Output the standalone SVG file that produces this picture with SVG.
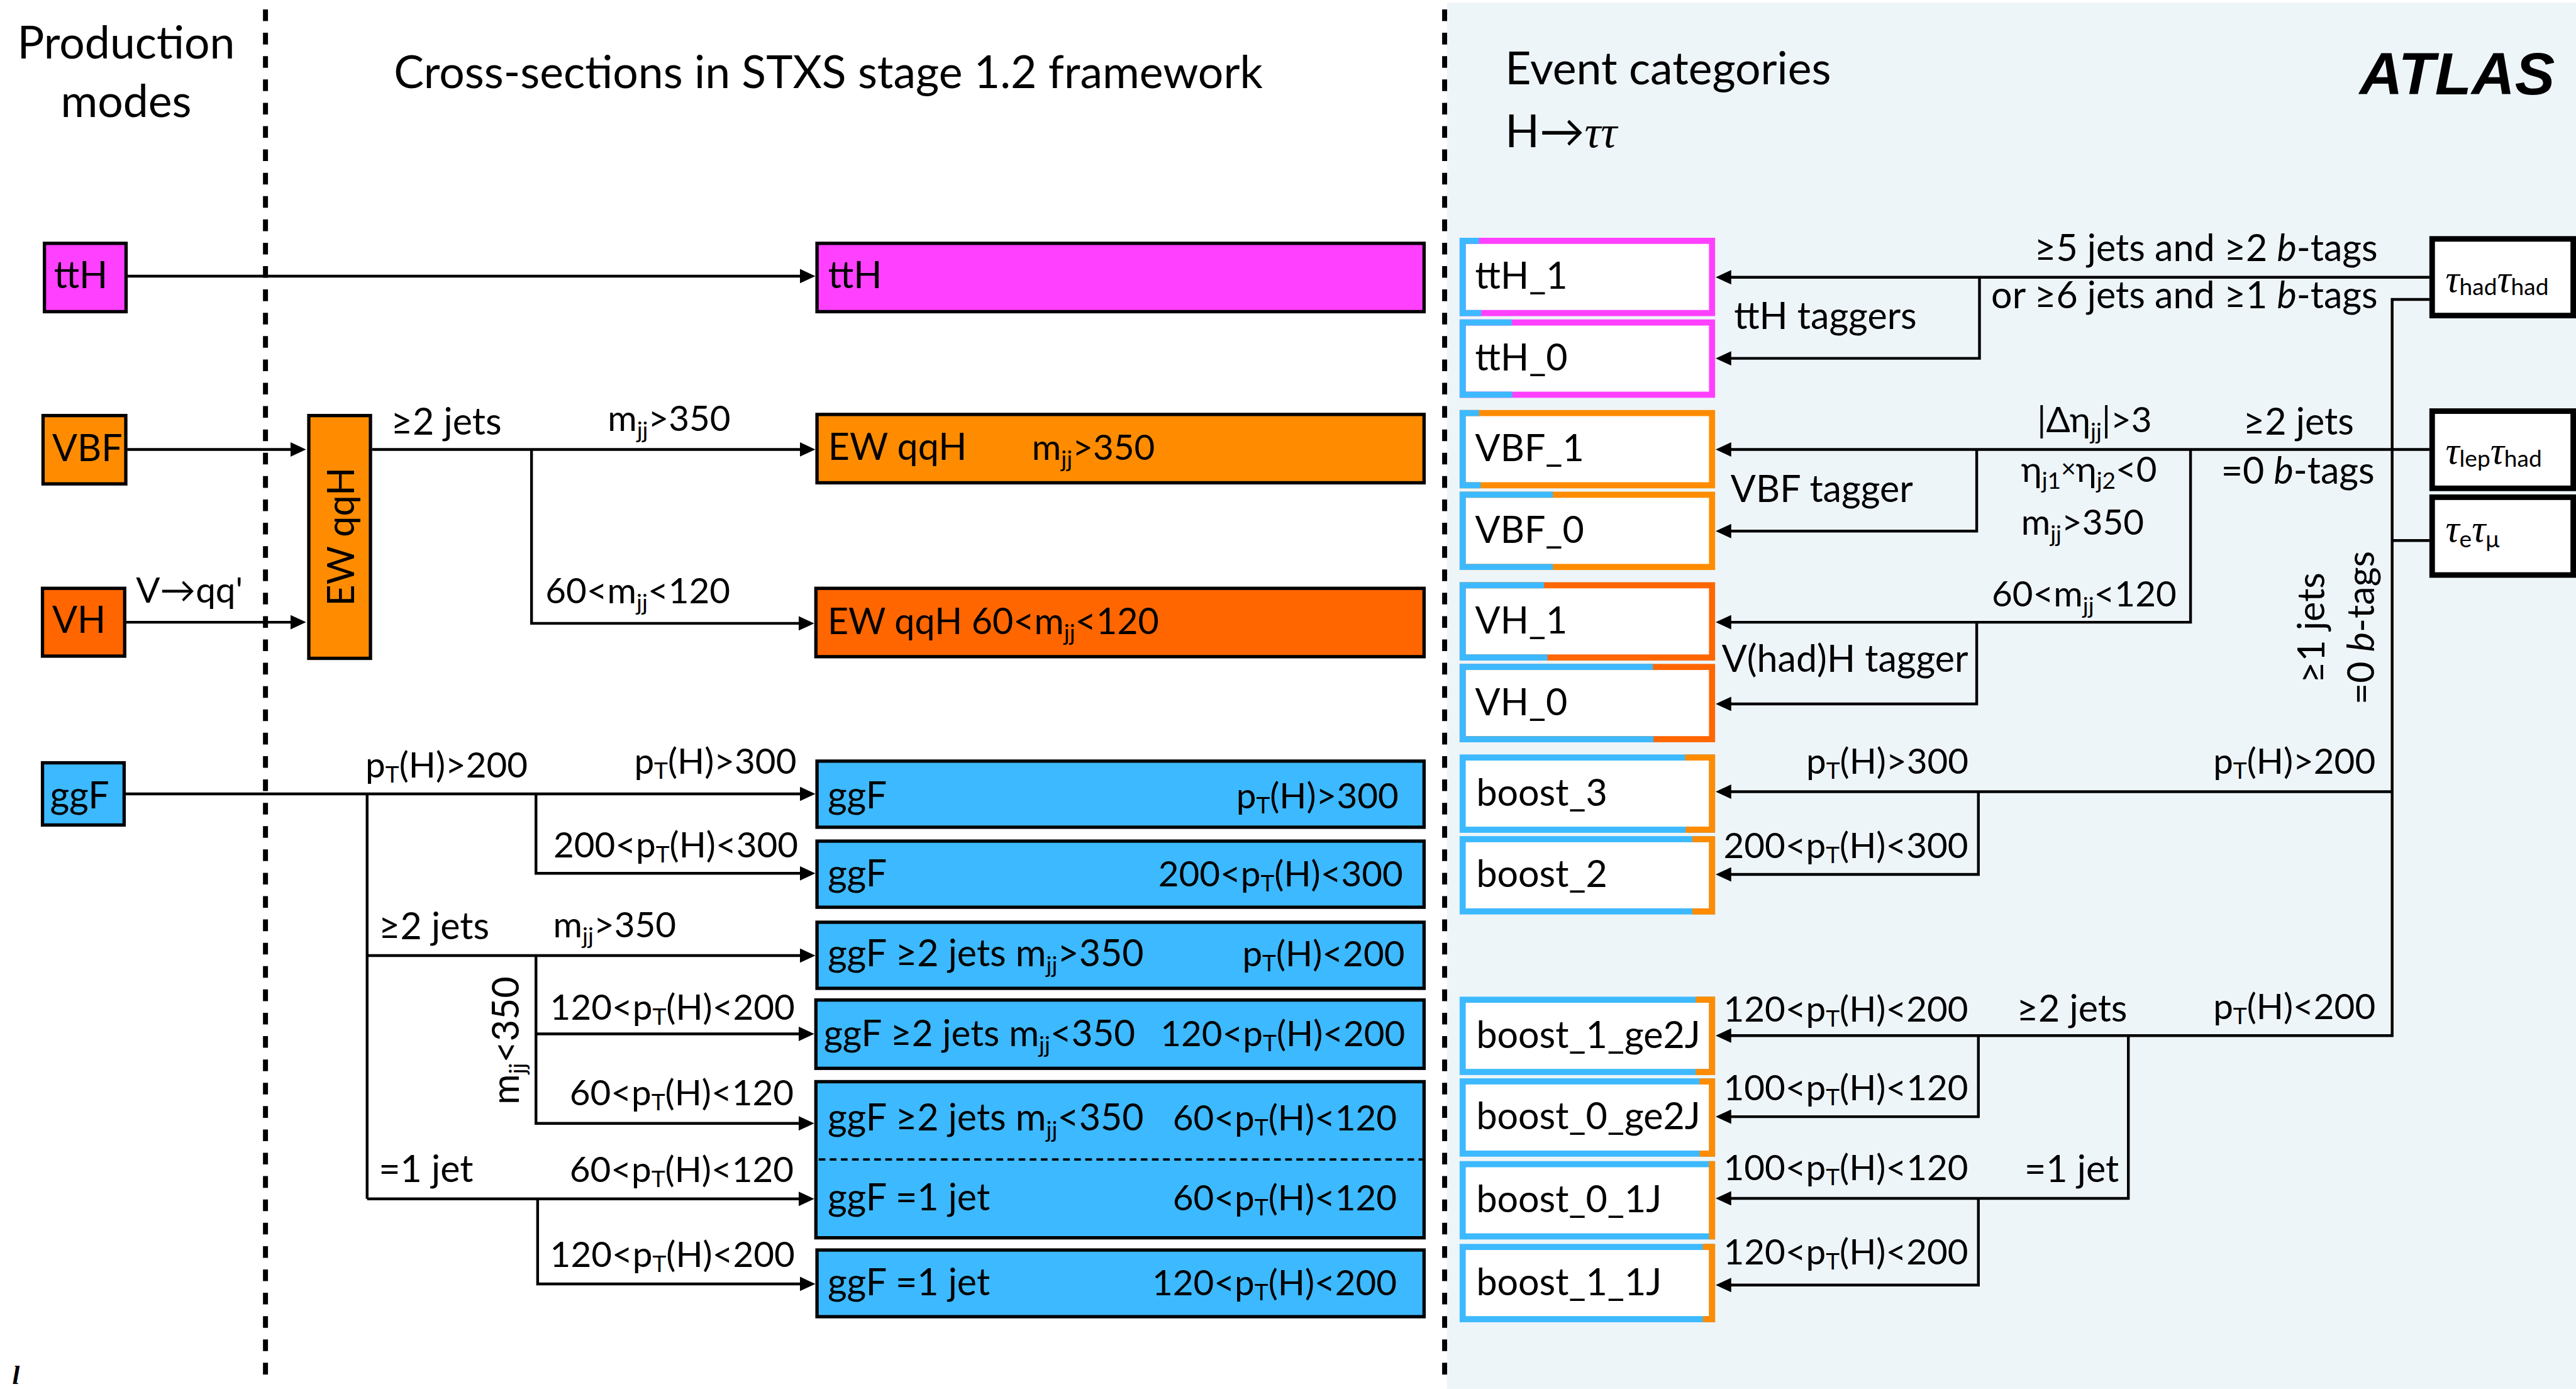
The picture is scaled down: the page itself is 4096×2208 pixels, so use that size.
<svg xmlns="http://www.w3.org/2000/svg" width="4096" height="2208" viewBox="0 0 4096 2208">
<defs>
<style>
text{font-family:Lato,"Liberation Sans","DejaVu Sans",sans-serif;font-size:67px;fill:#000}
.n{font-size:64px}
.hd{font-size:81px}
.s{font-size:42px}
.tau{font-family:"Liberation Serif","DejaVu Serif",serif;font-style:italic;font-size:70px}
.it{font-style:italic}
.box{stroke:#000;stroke-width:6}
.mag{fill:#FF40FF}
.org{fill:#FF8C00}
.dor{fill:#FF6600}
.blu{fill:#3DB9FF}
.cat{fill:#fff;stroke-width:11}
.edge{fill:none;stroke-width:11;stroke-linejoin:miter}
.ln{fill:none;stroke:#000;stroke-width:5}
.sep{stroke:#000;stroke-width:9;stroke-dasharray:21 21}
.tb{fill:#fff;stroke:#000;stroke-width:10}
</style>
<marker id="ah" markerUnits="userSpaceOnUse" viewBox="0 0 30 26" markerWidth="30" markerHeight="26" refX="16" refY="13" orient="auto">
<path d="M0,0 L28,13 L0,26 z" fill="#000"/>
</marker>
</defs>
<rect width="4096" height="2208" fill="#fff"/>
<g transform="scale(0.88314)">

<!-- event-category panel -->
<rect x="2605" y="5" width="2033" height="2495" fill="#EEF5F9"/>

<!-- column separators -->
<line class="sep" x1="478" y1="17" x2="478" y2="2480"/>
<line class="sep" x1="2601" y1="17" x2="2601" y2="2480"/>

<!-- headings -->
<g id="headings">
<text class="hd" x="227" y="105" text-anchor="middle">Production</text>
<text class="hd" x="227" y="211" text-anchor="middle">modes</text>
<text class="hd" x="709" y="158">Cross-sections in STXS stage 1.2 framework</text>
<text class="hd" x="2710" y="152">Event categories</text>
<text class="hd" x="2710" y="265">H→<tspan class="tau" style="font-size:82px">ττ</tspan></text>
<text x="4600" y="170" text-anchor="end" style="font-family:'Liberation Sans',sans-serif;font-weight:bold;font-style:italic;font-size:108px">ATLAS</text>
<text x="22" y="2491" style="font-family:'Liberation Serif',serif;font-weight:bold;font-style:italic;font-size:48px">l</text>
</g>

<!-- connectors -->
<g id="connectors">
<path class="ln" d="M230,497 H1456" marker-end="url(#ah)"/>
<path class="ln" d="M229,809 H539" marker-end="url(#ah)"/>
<path class="ln" d="M227,1120 H539" marker-end="url(#ah)"/>
<path class="ln" d="M670,809 H1456" marker-end="url(#ah)"/>
<path class="ln" d="M957,809 V1122 H1454" marker-end="url(#ah)"/>
<path class="ln" d="M226,1429 H1456" marker-end="url(#ah)"/>
<path class="ln" d="M661,1429 V2158"/>
<path class="ln" d="M965,1429 V1572 H1456" marker-end="url(#ah)"/>
<path class="ln" d="M661,1720 H1456" marker-end="url(#ah)"/>
<path class="ln" d="M965,1720 V2022 H1454" marker-end="url(#ah)"/>
<path class="ln" d="M965,1861 H1454" marker-end="url(#ah)"/>
<path class="ln" d="M661,2158 H1454" marker-end="url(#ah)"/>
<path class="ln" d="M968,2158 V2311 H1456" marker-end="url(#ah)"/>

<path class="ln" d="M4374,499 H3101" marker-end="url(#ah)"/>
<path class="ln" d="M3564,499 V645 H3101" marker-end="url(#ah)"/>
<path class="ln" d="M4374,539 H4307 V1864 H3101" marker-end="url(#ah)"/>
<path class="ln" d="M4374,809 H3101" marker-end="url(#ah)"/>
<path class="ln" d="M3944,809 V1120 H3101" marker-end="url(#ah)"/>
<path class="ln" d="M3559,809 V956 H3101" marker-end="url(#ah)"/>
<path class="ln" d="M3559,1120 V1267 H3101" marker-end="url(#ah)"/>
<path class="ln" d="M4374,973 H4307"/>
<path class="ln" d="M4307,1425 H3101" marker-end="url(#ah)"/>
<path class="ln" d="M3562,1425 V1574 H3101" marker-end="url(#ah)"/>
<path class="ln" d="M3562,1864 V2010 H3101" marker-end="url(#ah)"/>
<path class="ln" d="M3832,1864 V2157 H3101" marker-end="url(#ah)"/>
<path class="ln" d="M3562,2157 V2313 H3101" marker-end="url(#ah)"/>
</g>

<!-- connector labels -->
<g id="labels">
<text class="n" x="245" y="1085">V→qq'</text>
<text x="704" y="782">≥2 jets</text>
<text class="n" x="1094" y="776">m<tspan class="s" dy="13">jj</tspan><tspan dy="-13">&gt;350</tspan></text>
<text class="n" x="982" y="1086">60&lt;m<tspan class="s" dy="13">jj</tspan><tspan dy="-13">&lt;120</tspan></text>
<text class="n" x="658" y="1400">p<tspan class="s" dy="9">T</tspan><tspan dy="-9">(H)&gt;200</tspan></text>
<text class="n" x="1434" y="1393" text-anchor="end">p<tspan class="s" dy="9">T</tspan><tspan dy="-9">(H)&gt;300</tspan></text>
<text class="n" x="1437" y="1543" text-anchor="end">200&lt;p<tspan class="s" dy="9">T</tspan><tspan dy="-9">(H)&lt;300</tspan></text>
<text x="682" y="1690">≥2 jets</text>
<text class="n" x="996" y="1687">m<tspan class="s" dy="13">jj</tspan><tspan dy="-13">&gt;350</tspan></text>
<text transform="translate(934,1873) rotate(-90)" text-anchor="middle">m<tspan class="s" dy="13">jj</tspan><tspan dy="-13">&lt;350</tspan></text>
<text class="n" x="1431" y="1836" text-anchor="end">120&lt;p<tspan class="s" dy="9">T</tspan><tspan dy="-9">(H)&lt;200</tspan></text>
<text class="n" x="1429" y="1990" text-anchor="end">60&lt;p<tspan class="s" dy="9">T</tspan><tspan dy="-9">(H)&lt;120</tspan></text>
<text x="682" y="2128">=1 jet</text>
<text class="n" x="1429" y="2128" text-anchor="end">60&lt;p<tspan class="s" dy="9">T</tspan><tspan dy="-9">(H)&lt;120</tspan></text>
<text class="n" x="1431" y="2281" text-anchor="end">120&lt;p<tspan class="s" dy="9">T</tspan><tspan dy="-9">(H)&lt;200</tspan></text>

<text x="4281" y="470" text-anchor="end">≥5 jets and ≥2 <tspan class="it">b</tspan>-tags</text>
<text x="4281" y="555" text-anchor="end">or ≥6 jets and ≥1 <tspan class="it">b</tspan>-tags</text>
<text x="3122" y="592">ttH taggers</text>
<text class="n" x="3668" y="778">|Δη<tspan class="s" dy="13">jj</tspan><tspan dy="-13">|&gt;3</tspan></text>
<text x="4039" y="782">≥2 jets</text>
<text class="n" x="3639" y="867">η<tspan class="s" dy="13">j1</tspan><tspan style="font-size:46px" dy="-21">×</tspan><tspan dy="8">η</tspan><tspan class="s" dy="13">j2</tspan><tspan dy="-13">&lt;0</tspan></text>
<text x="3999" y="871">=0 <tspan class="it">b</tspan>-tags</text>
<text class="n" x="3639" y="963">m<tspan class="s" dy="13">jj</tspan><tspan dy="-13">&gt;350</tspan></text>
<text x="3116" y="904">VBF tagger</text>
<text class="n" x="3586" y="1092">60&lt;m<tspan class="s" dy="13">jj</tspan><tspan dy="-13">&lt;120</tspan></text>
<text x="3100" y="1209">V(had)H tagger</text>
<text transform="translate(4185,1130) rotate(-90)" text-anchor="middle">≥1 jets</text>
<text transform="translate(4274,1130) rotate(-90)" text-anchor="middle">=0 <tspan class="it">b</tspan>-tags</text>
<text class="n" x="3252" y="1393">p<tspan class="s" dy="9">T</tspan><tspan dy="-9">(H)&gt;300</tspan></text>
<text class="n" x="4277" y="1393" text-anchor="end">p<tspan class="s" dy="9">T</tspan><tspan dy="-9">(H)&gt;200</tspan></text>
<text class="n" x="3103" y="1545">200&lt;p<tspan class="s" dy="9">T</tspan><tspan dy="-9">(H)&lt;300</tspan></text>
<text class="n" x="4277" y="1834" text-anchor="end">p<tspan class="s" dy="9">T</tspan><tspan dy="-9">(H)&lt;200</tspan></text>
<text x="3631" y="1839">≥2 jets</text>
<text class="n" x="3103" y="1839">120&lt;p<tspan class="s" dy="9">T</tspan><tspan dy="-9">(H)&lt;200</tspan></text>
<text class="n" x="3103" y="1980">100&lt;p<tspan class="s" dy="9">T</tspan><tspan dy="-9">(H)&lt;120</tspan></text>
<text class="n" x="3103" y="2124">100&lt;p<tspan class="s" dy="9">T</tspan><tspan dy="-9">(H)&lt;120</tspan></text>
<text x="3815" y="2128" text-anchor="end">=1 jet</text>
<text class="n" x="3103" y="2276">120&lt;p<tspan class="s" dy="9">T</tspan><tspan dy="-9">(H)&lt;200</tspan></text>
</g>

<!-- production modes -->
<g id="prod-ttH"><rect class="box mag" x="80" y="438" width="147" height="123"/><text x="97" y="519">ttH</text></g>
<g id="prod-VBF"><rect class="box org" x="77.5" y="748" width="149" height="123"/><text x="94" y="830">VBF</text></g>
<g id="prod-VH"><rect class="box dor" x="76.5" y="1059" width="148" height="122"/><text x="94" y="1139">VH</text></g>
<g id="prod-ggF"><rect class="box blu" x="76.5" y="1373" width="147" height="112"/><text x="90" y="1455">ggF</text></g>

<!-- intermediate EW qqH -->
<g id="ewqqh"><rect class="box org" x="556" y="748" width="111" height="437"/><text transform="translate(638,966) rotate(-90)" text-anchor="middle">EW qqH</text></g>

<!-- STXS bins -->
<g id="stxs-ttH"><rect class="box mag" x="1471" y="438" width="1093" height="123"/><text x="1491" y="519">ttH</text></g>
<g id="stxs-qqH-mjj350"><rect class="box org" x="1471" y="746" width="1093" height="123"/><text x="1491" y="828">EW qqH</text><text class="n" x="1858" y="828">m<tspan class="s" dy="13">jj</tspan><tspan dy="-13">&gt;350</tspan></text></g>
<g id="stxs-qqH-vh"><rect class="box dor" x="1469" y="1059" width="1095" height="123"/><text x="1490" y="1141" style="font-size:65px">EW qqH 60&lt;m<tspan class="s" dy="13">jj</tspan><tspan dy="-13">&lt;120</tspan></text></g>
<g id="stxs-ggF-300"><rect class="box blu" x="1471" y="1370" width="1093" height="119"/><text x="1490" y="1455">ggF</text><text class="n" x="2518" y="1455" text-anchor="end">p<tspan class="s" dy="9">T</tspan><tspan dy="-9">(H)&gt;300</tspan></text></g>
<g id="stxs-ggF-200-300"><rect class="box blu" x="1471" y="1514" width="1093" height="119"/><text x="1490" y="1595">ggF</text><text class="n" x="2526" y="1595" text-anchor="end">200&lt;p<tspan class="s" dy="9">T</tspan><tspan dy="-9">(H)&lt;300</tspan></text></g>
<g id="stxs-ggF-2j-vbf"><rect class="box blu" x="1471" y="1660" width="1093" height="119"/><text x="1490" y="1739">ggF ≥2 jets m<tspan class="s" dy="13">jj</tspan><tspan dy="-13">&gt;350</tspan></text><text class="n" x="2529" y="1739" text-anchor="end">p<tspan class="s" dy="9">T</tspan><tspan dy="-9">(H)&lt;200</tspan></text></g>
<g id="stxs-ggF-2j-120"><rect class="box blu" x="1469" y="1800" width="1095" height="123"/><text x="1483" y="1883" style="font-size:66px">ggF ≥2 jets m<tspan class="s" dy="13">jj</tspan><tspan dy="-13">&lt;350</tspan></text><text class="n" x="2530" y="1883" text-anchor="end">120&lt;p<tspan class="s" dy="9">T</tspan><tspan dy="-9">(H)&lt;200</tspan></text></g>
<g id="stxs-ggF-60-120"><rect class="box blu" x="1469" y="1947" width="1095" height="281"/>
<line x1="1474" y1="2087" x2="2561" y2="2087" stroke="#000" stroke-width="4" stroke-dasharray="12 8"/>
<text x="1490" y="2035">ggF ≥2 jets m<tspan class="s" dy="13">jj</tspan><tspan dy="-13">&lt;350</tspan></text><text class="n" x="2515" y="2035" text-anchor="end">60&lt;p<tspan class="s" dy="9">T</tspan><tspan dy="-9">(H)&lt;120</tspan></text>
<text x="1490" y="2179">ggF =1 jet</text><text class="n" x="2515" y="2179" text-anchor="end">60&lt;p<tspan class="s" dy="9">T</tspan><tspan dy="-9">(H)&lt;120</tspan></text></g>
<g id="stxs-ggF-1j-120"><rect class="box blu" x="1471" y="2250" width="1093" height="120"/><text x="1490" y="2331">ggF =1 jet</text><text class="n" x="2515" y="2331" text-anchor="end">120&lt;p<tspan class="s" dy="9">T</tspan><tspan dy="-9">(H)&lt;200</tspan></text></g>

<!-- event categories -->
<g id="cat-ttH_1"><rect class="cat" stroke="#FF40FF" x="2633.5" y="433.5" width="449" height="130"/><path class="edge" stroke="#3DB9FF" d="M2663,433.5 H2633.5 V563.5 H2667"/><text x="2656" y="520">ttH_1</text></g>
<g id="cat-ttH_0"><rect class="cat" stroke="#FF40FF" x="2633.5" y="580.5" width="449" height="130"/><path class="edge" stroke="#3DB9FF" d="M2722,580.5 H2633.5 V710.5 H2723"/><text x="2656" y="667">ttH_0</text></g>
<g id="cat-VBF_1"><rect class="cat" stroke="#FF8C00" x="2633.5" y="743.5" width="449" height="130"/><path class="edge" stroke="#3DB9FF" d="M2663,743.5 H2633.5 V873.5 H2666"/><text x="2656" y="830">VBF_1</text></g>
<g id="cat-VBF_0"><rect class="cat" stroke="#FF8C00" x="2633.5" y="890.5" width="449" height="130"/><path class="edge" stroke="#3DB9FF" d="M2796,890.5 H2633.5 V1020.5 H2796"/><text x="2656" y="977">VBF_0</text></g>
<g id="cat-VH_1"><rect class="cat" stroke="#FF6600" x="2633.5" y="1053.5" width="449" height="130"/><path class="edge" stroke="#3DB9FF" d="M2780,1053.5 H2633.5 V1183.5 H2786"/><text x="2656" y="1140">VH_1</text></g>
<g id="cat-VH_0"><rect class="cat" stroke="#FF6600" x="2633.5" y="1200.5" width="449" height="130"/><path class="edge" stroke="#3DB9FF" d="M2976,1200.5 H2633.5 V1330.5 H2977"/><text x="2656" y="1287">VH_0</text></g>
<g id="cat-boost_3"><rect class="cat" stroke="#3DB9FF" x="2633.5" y="1363.5" width="449" height="130"/><path class="edge" stroke="#FF8C00" d="M3034,1363.5 H3082.5 V1493.5 H3035"/><text x="2658" y="1450">boost_3</text></g>
<g id="cat-boost_2"><rect class="cat" stroke="#3DB9FF" x="2633.5" y="1510.5" width="449" height="130"/><path class="edge" stroke="#FF8C00" d="M3047,1510.5 H3082.5 V1640.5 H3047"/><text x="2658" y="1597">boost_2</text></g>
<g id="cat-boost_1_ge2J"><rect class="cat" stroke="#3DB9FF" x="2633.5" y="1799.5" width="449" height="130"/><path class="edge" stroke="#FF8C00" d="M3053,1799.5 H3082.5 V1929.5 H3053"/><text x="2658" y="1886">boost_1_ge2J</text></g>
<g id="cat-boost_0_ge2J"><rect class="cat" stroke="#3DB9FF" x="2633.5" y="1946.5" width="449" height="130"/><path class="edge" stroke="#FF8C00" d="M3060,1946.5 H3082.5 V2076.5 H3060"/><text x="2658" y="2033">boost_0_ge2J</text></g>
<g id="cat-boost_0_1J"><rect class="cat" stroke="#3DB9FF" x="2633.5" y="2095.5" width="449" height="130"/><path class="edge" stroke="#FF8C00" d="M3077,2095.5 H3082.5 V2225.5 H3077"/><text x="2658" y="2182">boost_0_1J</text></g>
<g id="cat-boost_1_1J"><rect class="cat" stroke="#3DB9FF" x="2633.5" y="2244.5" width="449" height="130"/><path class="edge" stroke="#FF8C00" d="M3066,2244.5 H3082.5 V2374.5 H3066"/><text x="2658" y="2331">boost_1_1J</text></g>

<!-- decay channels -->
<g id="ch-hadhad"><rect class="tb" x="4379" y="430" width="254" height="138"/><text x="4403" y="525"><tspan class="tau">τ</tspan><tspan class="s" dy="6">had</tspan><tspan class="tau" dy="-6">τ</tspan><tspan class="s" dy="6">had</tspan></text></g>
<g id="ch-lephad"><rect class="tb" x="4379" y="740" width="254" height="139"/><text x="4403" y="834"><tspan class="tau">τ</tspan><tspan class="s" dy="6">lep</tspan><tspan class="tau" dy="-6">τ</tspan><tspan class="s" dy="6">had</tspan></text></g>
<g id="ch-emu"><rect class="tb" x="4379" y="895" width="254" height="140"/><text x="4403" y="975"><tspan class="tau">τ</tspan><tspan class="s" dy="10">e</tspan><tspan class="tau" dy="-10">τ</tspan><tspan class="s" dy="10">μ</tspan></text></g>

</g>
</svg>
